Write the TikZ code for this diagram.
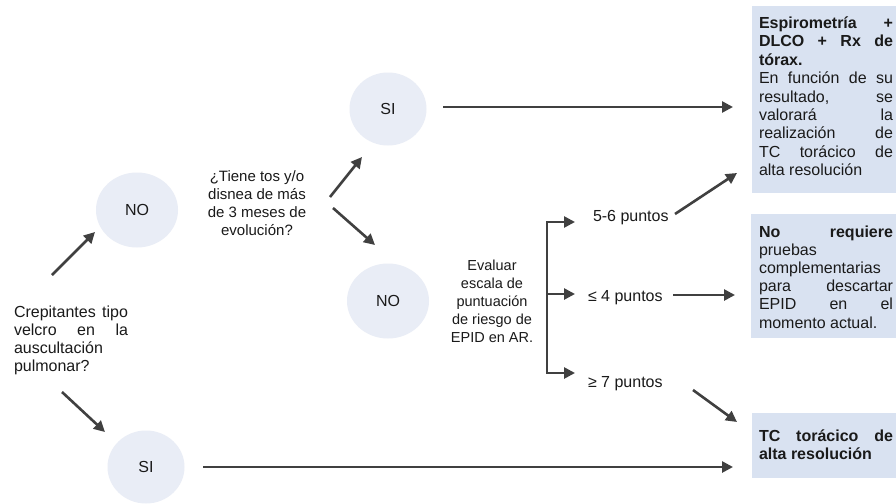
\documentclass[tikz,border=0pt]{standalone}
\usepackage{fontspec}
\setmainfont{Liberation Sans}
\usetikzlibrary{arrows.meta,shapes.geometric}
\definecolor{arr}{HTML}{404040}
\definecolor{circ}{HTML}{E9EDF6}
\definecolor{boxc}{HTML}{D9E2F1}
\definecolor{txt}{HTML}{1A1A1A}
\newcommand\myjl[2]{\hbox to #1{#2}}
\newcommand\myll[1]{\hbox{#1}}
\newcommand\myjc[2]{\hbox to #1{\hfil #2\hfil}}
\begin{document}
\begin{tikzpicture}[x=1pt,y=-1pt,
  every node/.style={text=txt, inner sep=0pt, outer sep=0pt},
  bubble/.style={ellipse, fill=circ, font=\fontsize{16}{18}\selectfont},
  panel/.style={rectangle, fill=boxc, anchor=north west},
  txt16/.style={font=\fontsize{16}{18}\selectfont},
  conn/.style={draw=arr, line width=2.6pt, -{Triangle[length=11pt,width=11pt]}},
  plain/.style={draw=arr, line width=2.6pt, line cap=rect}]
\useasboundingbox (0,0) rectangle (896,503);
\fill[white] (0,0) rectangle (896,503);

% circles
\node[bubble, minimum width=82pt, minimum height=75pt] (no1) at (137,210) {NO};
\node[bubble, minimum width=77pt, minimum height=73pt] (si1) at (146,467) {SI};
\node[bubble, minimum width=77pt, minimum height=73pt] (si2) at (388,109) {SI};
\node[bubble, minimum width=82pt, minimum height=75pt] (no2) at (388,301) {NO};

% boxes
\node[panel, minimum width=144pt, minimum height=187pt] (b1) at (752,6) {};
\node[panel, minimum width=145pt, minimum height=124pt] (b2) at (751,214) {};
\node[panel, minimum width=144pt, minimum height=65pt] (b3) at (752,413) {};

% texts
\node[txt16, anchor=base west] (cr) at (14,317) {\vtop{\baselineskip=18pt
  \myjl{114pt}{Crepitantes\hfill tipo}
  \myjl{114pt}{velcro\hfill en\hfill la}
  \myll{auscultación}
  \myll{pulmonar?}}};

\node[font=\fontsize{15}{18}\selectfont, anchor=base] (q) at (257,181) {\vtop{\baselineskip=18.3pt
  \myjc{104pt}{¿Tiene tos y/o}
  \myjc{104pt}{disnea de más}
  \myjc{104pt}{de 3 meses de}
  \myjc{104pt}{evolución?}}};

\node[font=\fontsize{14.5}{18}\selectfont, anchor=base] (ev) at (492,270) {\vtop{\baselineskip=18pt
  \myjc{90pt}{Evaluar}
  \myjc{90pt}{escala de}
  \myjc{90pt}{puntuación}
  \myjc{90pt}{de riesgo de}
  \myjc{90pt}{EPID en AR.}}};

\node[txt16, anchor=base west] (p56) at (593,221) {5-6 puntos};
\node[txt16, anchor=base west] (p4) at (588,301) {≤ 4 puntos};
\node[txt16, anchor=base west] (p7) at (588,387) {≥ 7 puntos};

\node[txt16, anchor=base west] (t1) at (759,28.5) {\vtop{\baselineskip=18.4pt
  \myjl{134pt}{\bfseries Espirometría\hfill +}
  \myjl{134pt}{\bfseries DLCO\hfill +\hfill Rx\hfill de}
  \myll{\bfseries tórax.}
  \myjl{134pt}{En\hfill función\hfill de\hfill su}
  \myjl{134pt}{resultado,\hfill se}
  \myjl{134pt}{valorará\hfill la}
  \myjl{134pt}{realización\hfill de}
  \myjl{134pt}{TC\hfill torácico\hfill de}
  \myll{alta resolución}}};

\node[txt16, anchor=base west] (t2) at (759,237) {\vtop{\baselineskip=18.2pt
  \myjl{134pt}{\bfseries No\hfill requiere}
  \myll{pruebas}
  \myll{complementarias}
  \myjl{134pt}{para\hfill descartar}
  \myjl{134pt}{EPID\hfill en\hfill el}
  \myll{momento actual.}}};

\node[txt16, anchor=base west] (t3) at (759,441.5) {\vtop{\baselineskip=18.4pt
  \myjl{134pt}{\bfseries TC\hfill torácico\hfill de}
  \myll{\bfseries alta resolución}}};

% arrow end points
\coordinate (a1s) at (52,275);  \coordinate (a1e) at (95,232);
\coordinate (a2s) at (62,392);  \coordinate (a2e) at (105,432);
\coordinate (a3s) at (330,197); \coordinate (a3e) at (362,157);
\coordinate (a4s) at (333,208); \coordinate (a4e) at (375,245);
\coordinate (a5s) at (443,107); \coordinate (a5e) at (733,107);
\coordinate (a6s) at (203,467); \coordinate (a6e) at (733,467);
\coordinate (br1) at (547,222); \coordinate (br2) at (547,294); \coordinate (br3) at (547,373);
\coordinate (br1e) at (575,222); \coordinate (br2e) at (575,294); \coordinate (br3e) at (575,373);
\coordinate (a8s) at (675,214); \coordinate (a8e) at (737,173);
\coordinate (a9s) at (673,295); \coordinate (a9e) at (735,295);
\coordinate (a10s) at (693,390); \coordinate (a10e) at (737,422);

\draw[conn] (a1s) -- (a1e);
\draw[conn] (a2s) -- (a2e);
\draw[conn] (a3s) -- (a3e);
\draw[conn] (a4s) -- (a4e);
\draw[conn] (a5s) -- (a5e);
\draw[conn] (a6s) -- (a6e);
\draw[plain] (br1) -- (br3);
\draw[conn] (br1) -- (br1e);
\draw[conn] (br2) -- (br2e);
\draw[conn] (br3) -- (br3e);
\draw[conn] (a8s) -- (a8e);
\draw[conn] (a9s) -- (a9e);
\draw[conn] (a10s) -- (a10e);
\end{tikzpicture}
\end{document}
